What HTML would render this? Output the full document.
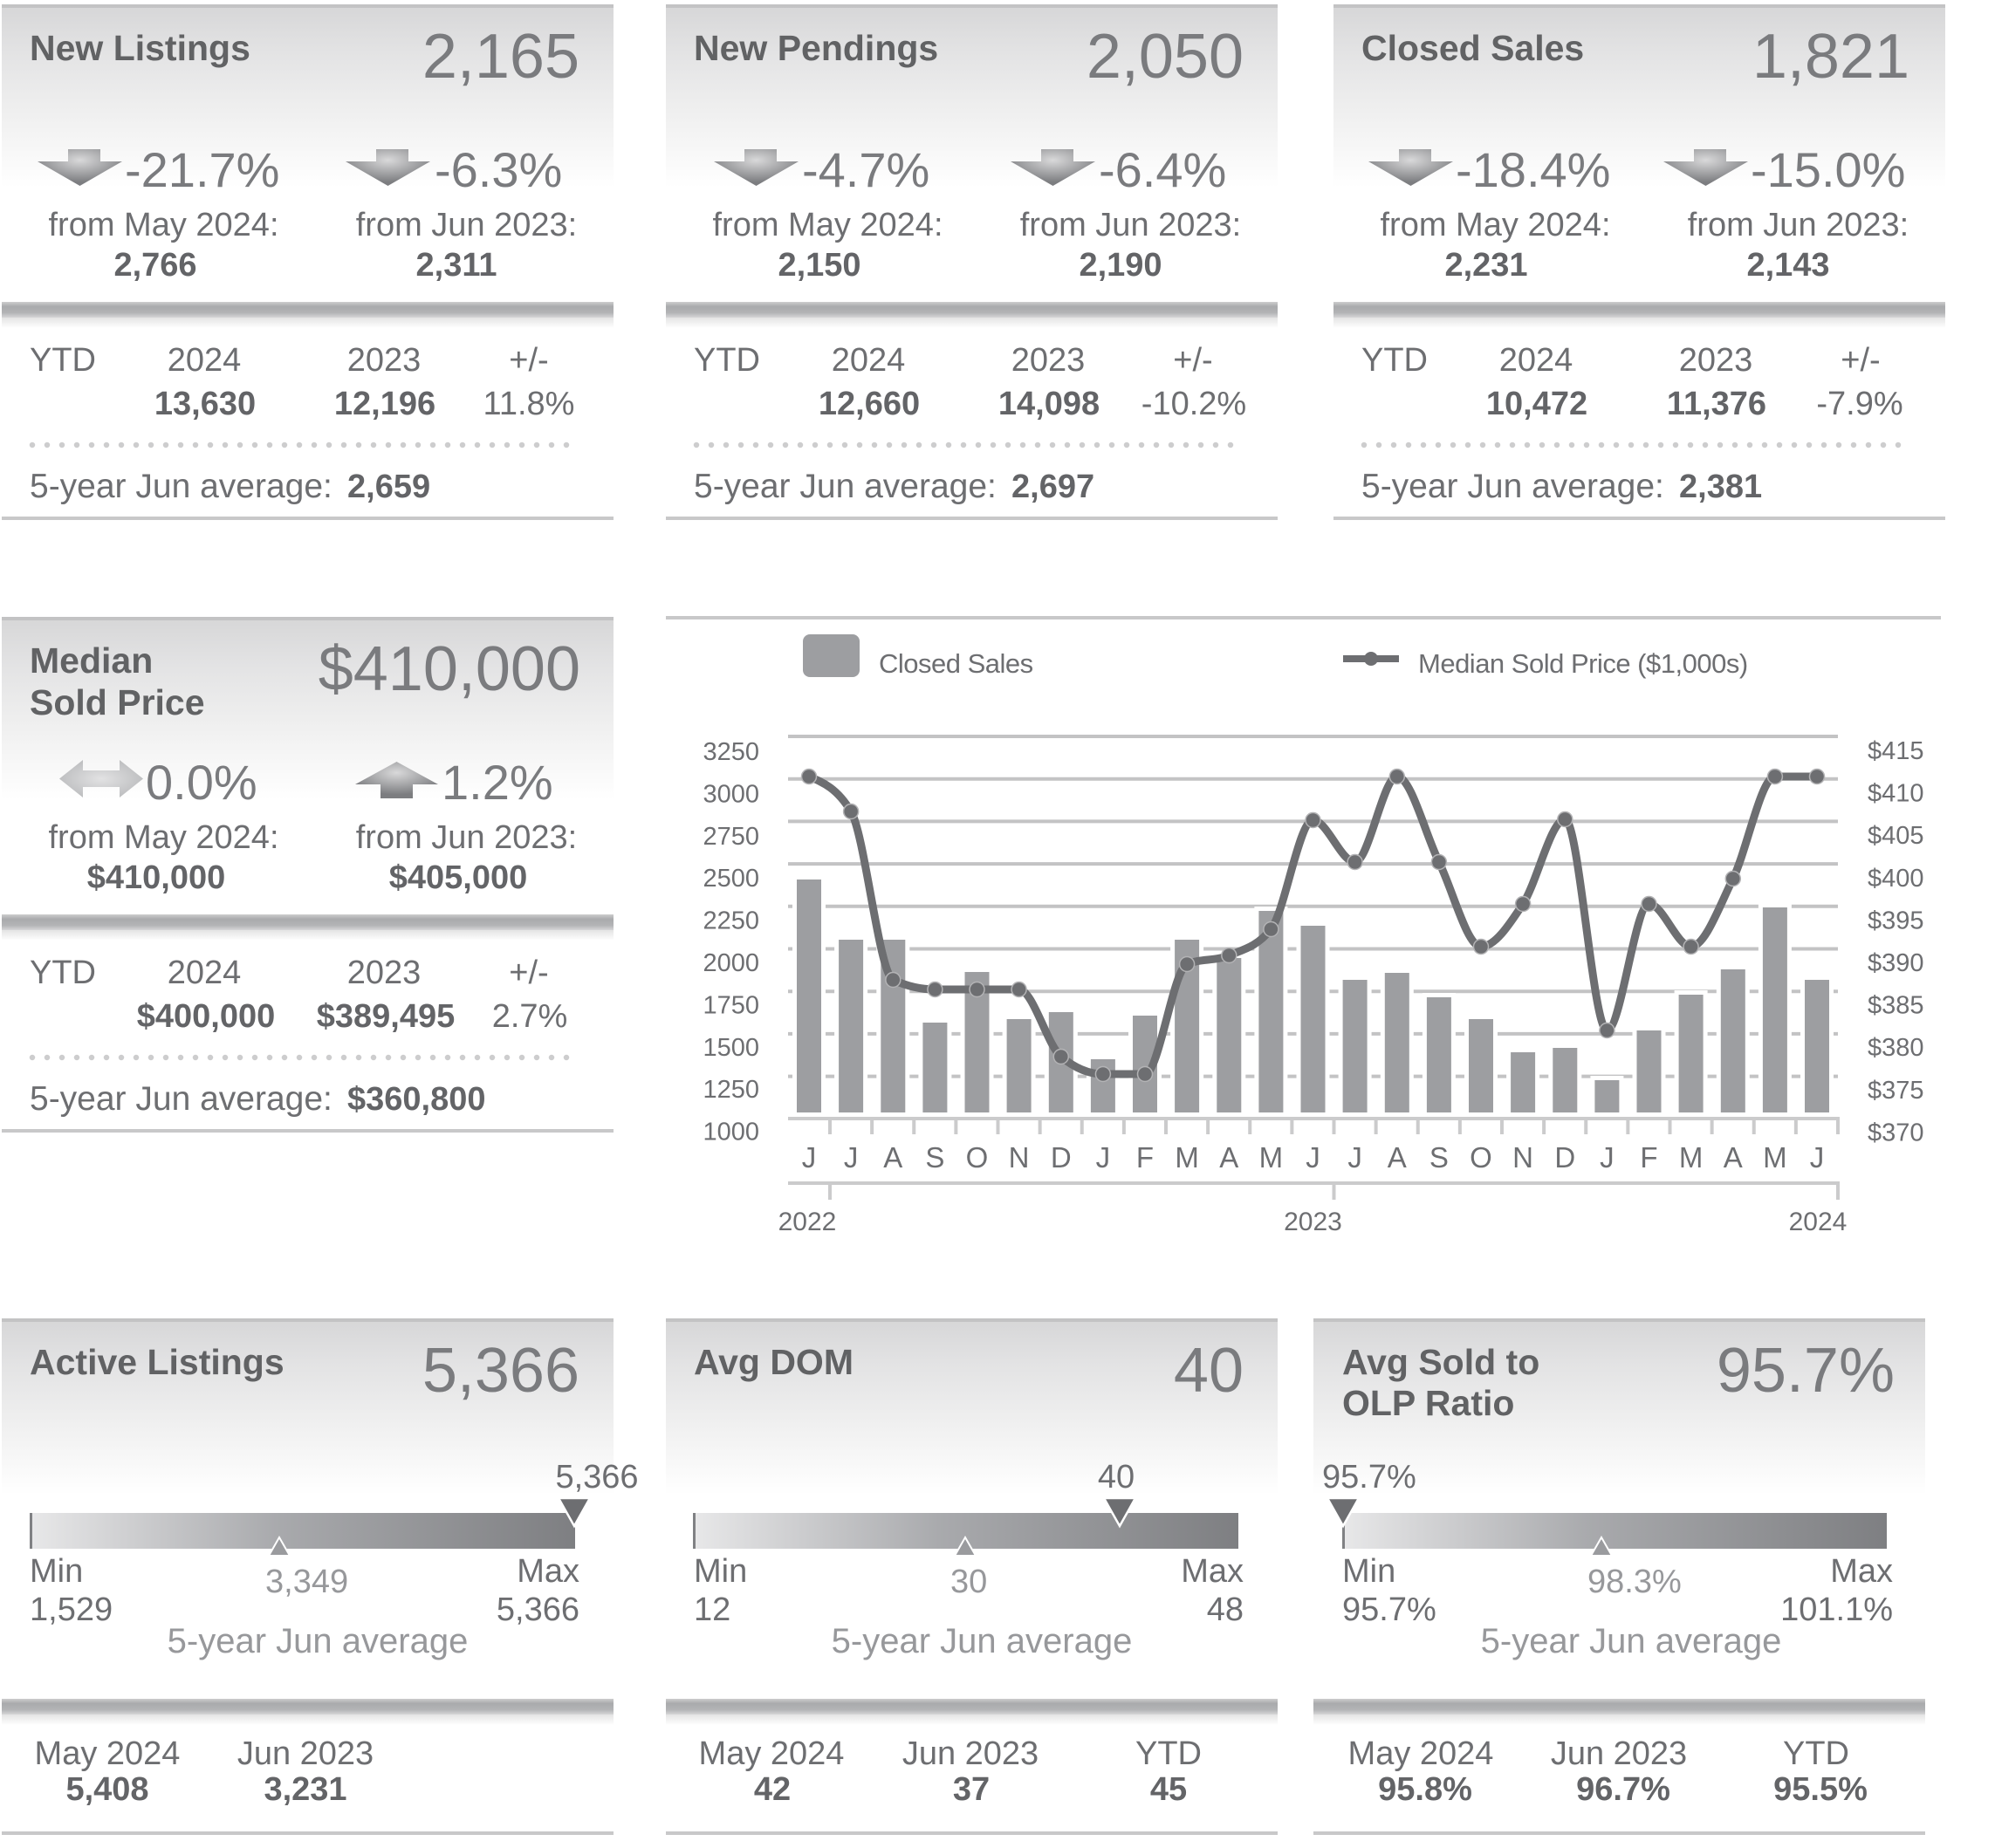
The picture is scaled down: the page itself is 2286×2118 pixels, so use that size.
<!DOCTYPE html>
<html><head><meta charset="utf-8"><style>
html,body{margin:0;padding:0;background:#fff;}
svg{display:block;}
text{font-family:"Liberation Sans",Arial,sans-serif;}
.title{font-weight:bold;font-size:41px;fill:#616264}
.big{font-size:72px;fill:#7a7b7e}
.pct{font-size:56px;fill:#7a7b7e}
.m{font-size:38px;fill:#6d6e71}
.b{font-size:38px;font-weight:bold;fill:#636467}
.avg{font-size:39px;fill:#6d6e71}
.lt{font-size:38px;fill:#97989b}
.lt2{font-size:40px;fill:#97989b}
.ax{font-size:29px;fill:#6d6e71}
.yr{font-size:30px;fill:#6d6e71}
.mo{font-size:33px;fill:#6d6e71}
.lg{font-size:31px;fill:#6d6e71;letter-spacing:-0.5px}
</style></head><body>
<svg width="2286" height="2118" viewBox="0 0 2286 2118" xmlns="http://www.w3.org/2000/svg">
<defs>
<linearGradient id="hdr" x1="0" y1="0" x2="0" y2="1">
<stop offset="0" stop-color="#d7d7d8"/><stop offset="0.25" stop-color="#e3e3e4"/><stop offset="0.6" stop-color="#f0f0f0"/><stop offset="1" stop-color="#ffffff"/>
</linearGradient>
<linearGradient id="sep" x1="0" y1="0" x2="0" y2="1">
<stop offset="0" stop-color="#cdcdce"/><stop offset="0.3" stop-color="#a9aaac"/><stop offset="0.7" stop-color="#b3b4b6"/><stop offset="1" stop-color="#d6d6d7"/>
</linearGradient>
<linearGradient id="sepsh" x1="0" y1="0" x2="0" y2="1">
<stop offset="0" stop-color="#e4e4e4"/><stop offset="1" stop-color="#ffffff"/>
</linearGradient>
<linearGradient id="gauge" x1="0" y1="0" x2="1" y2="0">
<stop offset="0" stop-color="#e8e8e9"/><stop offset="0.45" stop-color="#a9aaad"/><stop offset="1" stop-color="#7e7f82"/>
</linearGradient>
<radialGradient id="arr" cx="0.5" cy="0.3" r="0.6">
<stop offset="0" stop-color="#d9d9da"/><stop offset="1" stop-color="#7c7d80"/>
</radialGradient>
<radialGradient id="arrlt" cx="0.5" cy="0.5" r="0.6">
<stop offset="0" stop-color="#e2e2e3"/><stop offset="1" stop-color="#b8b9bb"/>
</radialGradient>
<path id="dn" d="M35,0 H72 V14 H97 L48.5,42 L0,14 H35 Z" fill="url(#arr)"/>
<path id="up" d="M0,26 L47.5,0 L95,26 H66 V42 H29 V26 Z" fill="url(#arr)"/>
<path id="lr" d="M0,21.5 L27,0 V12 H69 V0 L96,21.5 L69,43 V31 H27 V43 Z" fill="url(#arrlt)"/>
</defs>
<rect width="2286" height="2118" fill="#fff"/>

<!-- ===== TOP CARD 1 ===== -->
<g transform="translate(0,0)">
<rect x="2" y="9" width="701" height="206" fill="url(#hdr)"/>
<rect x="2" y="5" width="701" height="4" fill="#c3c3c4"/>
<text class="title" x="34" y="69">New Listings</text>
<text class="big" x="664" y="89" text-anchor="end">2,165</text>
<use href="#dn" x="43" y="171"/><text class="pct" x="143" y="214">-21.7%</text>
<use href="#dn" x="396" y="171"/><text class="pct" x="498" y="214">-6.3%</text>
<text class="m" x="187.5" y="270" text-anchor="middle">from May 2024:</text>
<text class="m" x="534.5" y="270" text-anchor="middle">from Jun 2023:</text>
<text class="b" x="178" y="316" text-anchor="middle">2,766</text>
<text class="b" x="523" y="316" text-anchor="middle">2,311</text>
<rect x="2" y="346" width="701" height="18" fill="url(#sep)"/>
<rect x="2" y="364" width="701" height="12" fill="url(#sepsh)"/>
<text class="m" x="34" y="425">YTD</text>
<text class="m" x="234" y="425" text-anchor="middle">2024</text>
<text class="m" x="440" y="425" text-anchor="middle">2023</text>
<text class="m" x="606" y="425" text-anchor="middle">+/-</text>
<text class="b" x="235" y="475" text-anchor="middle">13,630</text>
<text class="b" x="441" y="475" text-anchor="middle">12,196</text>
<text class="m" x="606" y="475" text-anchor="middle">11.8%</text>
<line x1="37" y1="510" x2="665" y2="510" stroke="#cdcdce" stroke-width="6.5" stroke-linecap="round" stroke-dasharray="0 17"/>
<text class="avg" x="34" y="570">5-year Jun average:</text>
<text class="b" x="398" y="570">2,659</text>
<rect x="2" y="592" width="701" height="4" fill="#c8c8c9"/>
</g>

<!-- ===== TOP CARD 2 ===== -->
<g transform="translate(761,0)">
<rect x="2" y="9" width="701" height="206" fill="url(#hdr)"/>
<rect x="2" y="5" width="701" height="4" fill="#c3c3c4"/>
<text class="title" x="34" y="69">New Pendings</text>
<text class="big" x="664" y="89" text-anchor="end">2,050</text>
<use href="#dn" x="57" y="171"/><text class="pct" x="158" y="214">-4.7%</text>
<use href="#dn" x="397" y="171"/><text class="pct" x="498" y="214">-6.4%</text>
<text class="m" x="187.5" y="270" text-anchor="middle">from May 2024:</text>
<text class="m" x="534.5" y="270" text-anchor="middle">from Jun 2023:</text>
<text class="b" x="178" y="316" text-anchor="middle">2,150</text>
<text class="b" x="523" y="316" text-anchor="middle">2,190</text>
<rect x="2" y="346" width="701" height="18" fill="url(#sep)"/>
<rect x="2" y="364" width="701" height="12" fill="url(#sepsh)"/>
<text class="m" x="34" y="425">YTD</text>
<text class="m" x="234" y="425" text-anchor="middle">2024</text>
<text class="m" x="440" y="425" text-anchor="middle">2023</text>
<text class="m" x="606" y="425" text-anchor="middle">+/-</text>
<text class="b" x="235" y="475" text-anchor="middle">12,660</text>
<text class="b" x="441" y="475" text-anchor="middle">14,098</text>
<text class="m" x="607" y="475" text-anchor="middle">-10.2%</text>
<line x1="37" y1="510" x2="665" y2="510" stroke="#cdcdce" stroke-width="6.5" stroke-linecap="round" stroke-dasharray="0 17"/>
<text class="avg" x="34" y="570">5-year Jun average:</text>
<text class="b" x="398" y="570">2,697</text>
<rect x="2" y="592" width="701" height="4" fill="#c8c8c9"/>
</g>

<!-- ===== TOP CARD 3 ===== -->
<g transform="translate(1526,0)">
<rect x="2" y="9" width="701" height="206" fill="url(#hdr)"/>
<rect x="2" y="5" width="701" height="4" fill="#c3c3c4"/>
<text class="title" x="34" y="69">Closed Sales</text>
<text class="big" x="662" y="89" text-anchor="end">1,821</text>
<use href="#dn" x="42" y="171"/><text class="pct" x="142" y="214">-18.4%</text>
<use href="#dn" x="380" y="171"/><text class="pct" x="480" y="214">-15.0%</text>
<text class="m" x="187.5" y="270" text-anchor="middle">from May 2024:</text>
<text class="m" x="534.5" y="270" text-anchor="middle">from Jun 2023:</text>
<text class="b" x="177" y="316" text-anchor="middle">2,231</text>
<text class="b" x="523" y="316" text-anchor="middle">2,143</text>
<rect x="2" y="346" width="701" height="18" fill="url(#sep)"/>
<rect x="2" y="364" width="701" height="12" fill="url(#sepsh)"/>
<text class="m" x="34" y="425">YTD</text>
<text class="m" x="234" y="425" text-anchor="middle">2024</text>
<text class="m" x="440" y="425" text-anchor="middle">2023</text>
<text class="m" x="606" y="425" text-anchor="middle">+/-</text>
<text class="b" x="235" y="475" text-anchor="middle">10,472</text>
<text class="b" x="441" y="475" text-anchor="middle">11,376</text>
<text class="m" x="605" y="475" text-anchor="middle">-7.9%</text>
<line x1="37" y1="510" x2="665" y2="510" stroke="#cdcdce" stroke-width="6.5" stroke-linecap="round" stroke-dasharray="0 17"/>
<text class="avg" x="34" y="570">5-year Jun average:</text>
<text class="b" x="398" y="570">2,381</text>
<rect x="2" y="592" width="701" height="4" fill="#c8c8c9"/>
</g>

<!-- ===== MEDIAN CARD ===== -->
<g transform="translate(0,702)">
<rect x="2" y="9" width="701" height="206" fill="url(#hdr)"/>
<rect x="2" y="5" width="701" height="4" fill="#c3c3c4"/>
<text class="title" x="34" y="69">Median</text>
<text class="title" x="34" y="117">Sold Price</text>
<text class="big" x="665" y="89" text-anchor="end">$410,000</text>
<use href="#lr" x="68" y="169"/><text class="pct" x="167" y="214" fill="#8a8b8e">0.0%</text>
<use href="#up" x="407" y="171"/><text class="pct" x="506" y="214">1.2%</text>
<text class="m" x="187.5" y="270" text-anchor="middle">from May 2024:</text>
<text class="m" x="534.5" y="270" text-anchor="middle">from Jun 2023:</text>
<text class="b" x="179" y="316" text-anchor="middle">$410,000</text>
<text class="b" x="525" y="316" text-anchor="middle">$405,000</text>
<rect x="2" y="346" width="701" height="18" fill="url(#sep)"/>
<rect x="2" y="364" width="701" height="12" fill="url(#sepsh)"/>
<text class="m" x="34" y="425">YTD</text>
<text class="m" x="234" y="425" text-anchor="middle">2024</text>
<text class="m" x="440" y="425" text-anchor="middle">2023</text>
<text class="m" x="606" y="425" text-anchor="middle">+/-</text>
<text class="b" x="236" y="475" text-anchor="middle">$400,000</text>
<text class="b" x="442" y="475" text-anchor="middle">$389,495</text>
<text class="m" x="607" y="475" text-anchor="middle">2.7%</text>
<line x1="37" y1="510" x2="665" y2="510" stroke="#cdcdce" stroke-width="6.5" stroke-linecap="round" stroke-dasharray="0 17"/>
<text class="avg" x="34" y="570">5-year Jun average:</text>
<text class="b" x="398" y="570">$360,800</text>
<rect x="2" y="592" width="701" height="4" fill="#c8c8c9"/>
</g>

<!-- ===== CHART ===== -->
<g>
<rect x="763" y="706" width="1461" height="4" fill="#c8c8c9"/>
<rect x="920" y="727" width="65" height="49" rx="8" fill="#9d9ea1"/>
<text class="lg" x="1007" y="771">Closed Sales</text>
<line x1="1539" y1="755" x2="1603" y2="755" stroke="#6d6e71" stroke-width="8"/>
<circle cx="1571" cy="755" r="8" fill="#6d6e71"/>
<text class="lg" x="1625" y="771">Median Sold Price ($1,000s)</text>

<g stroke="#c3c3c4" stroke-width="4">
<line x1="903" y1="844" x2="2106" y2="844"/>
<line x1="903" y1="892.7" x2="2106" y2="892.7"/>
<line x1="903" y1="941.4" x2="2106" y2="941.4"/>
<line x1="903" y1="990.1" x2="2106" y2="990.1"/>
<line x1="903" y1="1038.8" x2="2106" y2="1038.8"/>
<line x1="903" y1="1087.5" x2="2106" y2="1087.5"/>
<line x1="903" y1="1136.2" x2="2106" y2="1136.2"/>
<line x1="903" y1="1184.9" x2="2106" y2="1184.9"/>
<line x1="903" y1="1233.6" x2="2106" y2="1233.6"/>
</g>
<line x1="903" y1="1282" x2="2108" y2="1282" stroke="#cbcbcc" stroke-width="4"/>
<line x1="949" y1="1291" x2="2108" y2="1291" stroke="#cbcbcc" stroke-width="18" stroke-dasharray="4 44.125"/>

<g fill="#fff">
<rect x="908" y="1003" width="38" height="272"/>
<rect x="956.1" y="1072" width="38" height="203"/>
<rect x="1004.3" y="1072" width="38" height="203"/>
<rect x="1052.4" y="1167" width="38" height="108"/>
<rect x="1100.5" y="1109" width="38" height="166"/>
<rect x="1148.6" y="1163" width="38" height="112"/>
<rect x="1196.8" y="1155" width="38" height="120"/>
<rect x="1244.9" y="1209" width="38" height="66"/>
<rect x="1293" y="1159" width="38" height="116"/>
<rect x="1341.1" y="1072" width="38" height="203"/>
<rect x="1389.3" y="1093" width="38" height="182"/>
<rect x="1437.4" y="1039" width="38" height="236"/>
<rect x="1485.5" y="1056" width="38" height="219"/>
<rect x="1533.6" y="1118" width="38" height="157"/>
<rect x="1581.8" y="1110" width="38" height="165"/>
<rect x="1629.9" y="1138" width="38" height="137"/>
<rect x="1678" y="1163" width="38" height="112"/>
<rect x="1726.1" y="1201" width="38" height="74"/>
<rect x="1774.3" y="1196" width="38" height="79"/>
<rect x="1822.4" y="1233" width="38" height="42"/>
<rect x="1870.5" y="1176" width="38" height="99"/>
<rect x="1918.6" y="1135" width="38" height="140"/>
<rect x="1966.8" y="1106" width="38" height="169"/>
<rect x="2014.9" y="1035" width="38" height="240"/>
<rect x="2063" y="1118" width="38" height="157"/>
</g>
<g fill="#9d9ea1">
<rect x="913" y="1008" width="28" height="267"/>
<rect x="961.1" y="1077" width="28" height="198"/>
<rect x="1009.3" y="1077" width="28" height="198"/>
<rect x="1057.4" y="1172" width="28" height="103"/>
<rect x="1105.5" y="1114" width="28" height="161"/>
<rect x="1153.6" y="1168" width="28" height="107"/>
<rect x="1201.8" y="1160" width="28" height="115"/>
<rect x="1249.9" y="1214" width="28" height="61"/>
<rect x="1298" y="1164" width="28" height="111"/>
<rect x="1346.1" y="1077" width="28" height="198"/>
<rect x="1394.3" y="1098" width="28" height="177"/>
<rect x="1442.4" y="1044" width="28" height="231"/>
<rect x="1490.5" y="1061" width="28" height="214"/>
<rect x="1538.6" y="1123" width="28" height="152"/>
<rect x="1586.8" y="1115" width="28" height="160"/>
<rect x="1634.9" y="1143" width="28" height="132"/>
<rect x="1683" y="1168" width="28" height="107"/>
<rect x="1731.1" y="1206" width="28" height="69"/>
<rect x="1779.3" y="1201" width="28" height="74"/>
<rect x="1827.4" y="1238" width="28" height="37"/>
<rect x="1875.5" y="1181" width="28" height="94"/>
<rect x="1923.6" y="1140" width="28" height="135"/>
<rect x="1971.8" y="1111" width="28" height="164"/>
<rect x="2019.9" y="1040" width="28" height="235"/>
<rect x="2068" y="1123" width="28" height="152"/>
</g>

<path fill="none" stroke="#6d6e71" stroke-width="9" stroke-linecap="round" stroke-linejoin="round" d="M927,890 C943,896.7 959.1,903.3 975.1,930 C991.1,956.7 1007.3,1115.7 1023.3,1123 C1039.3,1130.3 1055.4,1134 1071.4,1134 C1087.4,1134 1103.5,1134 1119.5,1134 C1135.5,1134 1151.6,1134 1167.6,1134 C1183.6,1134 1199.8,1197.7 1215.8,1211 C1231.8,1224.3 1247.9,1231 1263.9,1231 C1279.9,1231 1296,1231 1312,1231 C1328,1231 1344.1,1111.7 1360.1,1105 C1376.1,1098.3 1392.3,1101.7 1408.3,1095 C1424.3,1088.3 1440.4,1085 1456.4,1065 C1472.4,1045 1488.5,940 1504.5,940 C1520.5,940 1536.6,988 1552.6,988 C1568.6,988 1584.8,890 1600.8,890 C1616.8,890 1632.9,955.5 1648.9,988 C1664.9,1020.5 1681,1085 1697,1085 C1713,1085 1729.1,1060.3 1745.1,1036 C1761.1,1011.7 1777.3,939 1793.3,939 C1809.3,939 1825.4,1181 1841.4,1181 C1857.4,1181 1873.5,1036 1889.5,1036 C1905.5,1036 1921.6,1085 1937.6,1085 C1953.6,1085 1969.8,1039.5 1985.8,1007 C2001.8,974.5 2017.9,890 2033.9,890 C2049.9,890 2066,890 2082,890"/>
<g fill="#6d6e71" stroke="#b3b3b5" stroke-width="1.5">
<circle cx="927" cy="890" r="8.5"/><circle cx="975.1" cy="930" r="8.5"/><circle cx="1023.3" cy="1123" r="8.5"/><circle cx="1071.4" cy="1134" r="8.5"/><circle cx="1119.5" cy="1134" r="8.5"/><circle cx="1167.6" cy="1134" r="8.5"/><circle cx="1215.8" cy="1211" r="8.5"/><circle cx="1263.9" cy="1231" r="8.5"/><circle cx="1312" cy="1231" r="8.5"/><circle cx="1360.1" cy="1105" r="8.5"/><circle cx="1408.3" cy="1095" r="8.5"/><circle cx="1456.4" cy="1065" r="8.5"/><circle cx="1504.5" cy="940" r="8.5"/><circle cx="1552.6" cy="988" r="8.5"/><circle cx="1600.8" cy="890" r="8.5"/><circle cx="1648.9" cy="988" r="8.5"/><circle cx="1697" cy="1085" r="8.5"/><circle cx="1745.1" cy="1036" r="8.5"/><circle cx="1793.3" cy="939" r="8.5"/><circle cx="1841.4" cy="1181" r="8.5"/><circle cx="1889.5" cy="1036" r="8.5"/><circle cx="1937.6" cy="1085" r="8.5"/><circle cx="1985.8" cy="1007" r="8.5"/><circle cx="2033.9" cy="890" r="8.5"/><circle cx="2082" cy="890" r="8.5"/>
</g>

<g text-anchor="end">
<text class="ax" x="870" y="871">3250</text>
<text class="ax" x="870" y="919.4">3000</text>
<text class="ax" x="870" y="967.8">2750</text>
<text class="ax" x="870" y="1016.2">2500</text>
<text class="ax" x="870" y="1064.6">2250</text>
<text class="ax" x="870" y="1113">2000</text>
<text class="ax" x="870" y="1161.4">1750</text>
<text class="ax" x="870" y="1209.8">1500</text>
<text class="ax" x="870" y="1258.2">1250</text>
<text class="ax" x="870" y="1306.6">1000</text>
</g>
<g>
<text class="ax" x="2140" y="870">$415</text>
<text class="ax" x="2140" y="918.6">$410</text>
<text class="ax" x="2140" y="967.2">$405</text>
<text class="ax" x="2140" y="1015.8">$400</text>
<text class="ax" x="2140" y="1064.4">$395</text>
<text class="ax" x="2140" y="1113">$390</text>
<text class="ax" x="2140" y="1161.6">$385</text>
<text class="ax" x="2140" y="1210.2">$380</text>
<text class="ax" x="2140" y="1258.8">$375</text>
<text class="ax" x="2140" y="1307.4">$370</text>
</g>
<g text-anchor="middle">
<text class="mo" x="927" y="1338">J</text><text class="mo" x="975.1" y="1338">J</text><text class="mo" x="1023.3" y="1338">A</text><text class="mo" x="1071.4" y="1338">S</text><text class="mo" x="1119.5" y="1338">O</text><text class="mo" x="1167.6" y="1338">N</text><text class="mo" x="1215.8" y="1338">D</text><text class="mo" x="1263.9" y="1338">J</text><text class="mo" x="1312" y="1338">F</text><text class="mo" x="1360.1" y="1338">M</text><text class="mo" x="1408.3" y="1338">A</text><text class="mo" x="1456.4" y="1338">M</text><text class="mo" x="1504.5" y="1338">J</text><text class="mo" x="1552.6" y="1338">J</text><text class="mo" x="1600.8" y="1338">A</text><text class="mo" x="1648.9" y="1338">S</text><text class="mo" x="1697" y="1338">O</text><text class="mo" x="1745.1" y="1338">N</text><text class="mo" x="1793.3" y="1338">D</text><text class="mo" x="1841.4" y="1338">J</text><text class="mo" x="1889.5" y="1338">F</text><text class="mo" x="1937.6" y="1338">M</text><text class="mo" x="1985.8" y="1338">A</text><text class="mo" x="2033.9" y="1338">M</text><text class="mo" x="2082" y="1338">J</text>
</g>
<line x1="903" y1="1356" x2="2108" y2="1356" stroke="#cbcbcc" stroke-width="4"/>
<g stroke="#cbcbcc" stroke-width="4">
<line x1="951" y1="1356" x2="951" y2="1375"/>
<line x1="1528.5" y1="1356" x2="1528.5" y2="1375"/>
<line x1="2106" y1="1356" x2="2106" y2="1375"/>
</g>
<g text-anchor="middle">
<text class="yr" x="925" y="1410">2022</text>
<text class="yr" x="1504.5" y="1410">2023</text>
<text class="yr" x="2083" y="1410">2024</text>
</g>
</g>

<!-- ===== BOTTOM CARD 1: Active Listings ===== -->
<g transform="translate(0,1506)">
<rect x="2" y="9" width="701" height="198" fill="url(#hdr)"/>
<rect x="2" y="5" width="701" height="4" fill="#c3c3c4"/>
<text class="title" x="34" y="69">Active Listings</text>
<text class="big" x="664" y="89" text-anchor="end">5,366</text>
<text class="m" x="684" y="199" text-anchor="middle">5,366</text>
<rect x="34" y="228" width="625" height="41" fill="url(#gauge)"/>
<rect x="34" y="228" width="3" height="41" fill="#808184"/>
<polygon points="640,211 676,211 658,243" fill="#6d6e71" stroke="#fff" stroke-width="2.5"/>
<polygon points="320,256 332,277 308,277" fill="#9a9b9e" stroke="#fff" stroke-width="2"/>
<text class="m" x="34" y="307">Min</text>
<text class="m" x="34" y="351">1,529</text>
<text class="m" x="664" y="307" text-anchor="end">Max</text>
<text class="m" x="664" y="351" text-anchor="end">5,366</text>
<text class="lt" x="304" y="319">3,349</text>
<text class="lt2" x="364" y="388" text-anchor="middle">5-year Jun average</text>
<rect x="2" y="441" width="701" height="18" fill="url(#sep)"/>
<rect x="2" y="459" width="701" height="12" fill="url(#sepsh)"/>
<text class="m" x="123" y="516" text-anchor="middle">May 2024</text>
<text class="m" x="350" y="516" text-anchor="middle">Jun 2023</text>
<text class="b" x="123" y="557" text-anchor="middle">5,408</text>
<text class="b" x="350" y="557" text-anchor="middle">3,231</text>
<rect x="2" y="593" width="701" height="4" fill="#c8c8c9"/>
</g>

<!-- ===== BOTTOM CARD 2: Avg DOM ===== -->
<g transform="translate(761,1506)">
<rect x="2" y="9" width="701" height="198" fill="url(#hdr)"/>
<rect x="2" y="5" width="701" height="4" fill="#c3c3c4"/>
<text class="title" x="34" y="69">Avg DOM</text>
<text class="big" x="664" y="89" text-anchor="end">40</text>
<text class="m" x="518" y="199" text-anchor="middle">40</text>
<rect x="33" y="228" width="625" height="41" fill="url(#gauge)"/>
<rect x="33" y="228" width="3" height="41" fill="#808184"/>
<polygon points="504,211 540,211 522,243" fill="#6d6e71" stroke="#fff" stroke-width="2.5"/>
<polygon points="345,256 357,277 333,277" fill="#9a9b9e" stroke="#fff" stroke-width="2"/>
<text class="m" x="34" y="307">Min</text>
<text class="m" x="34" y="351">12</text>
<text class="m" x="664" y="307" text-anchor="end">Max</text>
<text class="m" x="664" y="351" text-anchor="end">48</text>
<text class="lt" x="328" y="319">30</text>
<text class="lt2" x="364" y="388" text-anchor="middle">5-year Jun average</text>
<rect x="2" y="441" width="701" height="18" fill="url(#sep)"/>
<rect x="2" y="459" width="701" height="12" fill="url(#sepsh)"/>
<text class="m" x="123" y="516" text-anchor="middle">May 2024</text>
<text class="m" x="351" y="516" text-anchor="middle">Jun 2023</text>
<text class="m" x="578" y="516" text-anchor="middle">YTD</text>
<text class="b" x="124" y="557" text-anchor="middle">42</text>
<text class="b" x="352" y="557" text-anchor="middle">37</text>
<text class="b" x="578" y="557" text-anchor="middle">45</text>
<rect x="2" y="593" width="701" height="4" fill="#c8c8c9"/>
</g>

<!-- ===== BOTTOM CARD 3: Avg Sold to OLP ===== -->
<g transform="translate(1503,1506)">
<rect x="2" y="9" width="701" height="198" fill="url(#hdr)"/>
<rect x="2" y="5" width="701" height="4" fill="#c3c3c4"/>
<text class="title" x="35" y="69">Avg Sold to</text>
<text class="title" x="35" y="116">OLP Ratio</text>
<text class="big" x="668" y="89" text-anchor="end">95.7%</text>
<text class="m" x="12" y="199">95.7%</text>
<rect x="35" y="228" width="624" height="41" fill="url(#gauge)"/>
<rect x="35" y="228" width="3" height="41" fill="#808184"/>
<polygon points="18,211 54,211 36,243" fill="#6d6e71" stroke="#fff" stroke-width="2.5"/>
<polygon points="332,256 344,277 320,277" fill="#9a9b9e" stroke="#fff" stroke-width="2"/>
<text class="m" x="35" y="307">Min</text>
<text class="m" x="35" y="351">95.7%</text>
<text class="m" x="666" y="307" text-anchor="end">Max</text>
<text class="m" x="666" y="351" text-anchor="end">101.1%</text>
<text class="lt" x="316" y="319">98.3%</text>
<text class="lt2" x="366" y="388" text-anchor="middle">5-year Jun average</text>
<rect x="2" y="441" width="701" height="18" fill="url(#sep)"/>
<rect x="2" y="459" width="701" height="12" fill="url(#sepsh)"/>
<text class="m" x="125" y="516" text-anchor="middle">May 2024</text>
<text class="m" x="352" y="516" text-anchor="middle">Jun 2023</text>
<text class="m" x="578" y="516" text-anchor="middle">YTD</text>
<text class="b" x="130" y="557" text-anchor="middle">95.8%</text>
<text class="b" x="357" y="557" text-anchor="middle">96.7%</text>
<text class="b" x="583" y="557" text-anchor="middle">95.5%</text>
<rect x="2" y="593" width="701" height="4" fill="#c8c8c9"/>
</g>
</svg>
</body></html>
